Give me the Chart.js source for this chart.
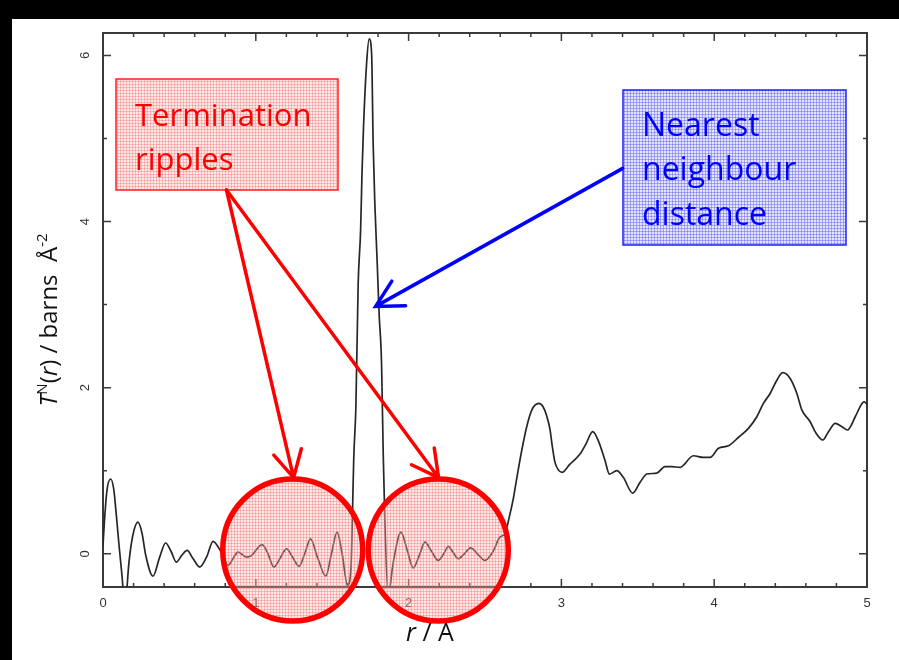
<!DOCTYPE html>
<html>
<head>
<meta charset="utf-8">
<script src="https://cdn.jsdelivr.net/npm/chart.js@4.4.0/dist/chart.umd.min.js"></script>
<style>
html, body { margin: 0; padding: 0; background: #000; }
#grafica { display: block; }
</style>
</head>
<body>
<canvas id="grafica" width="899" height="660"></canvas>
<script>
// r (Angstrom) and T^N(r)
var rValues = [
	0.000, 0.008, 0.025, 0.050, 0.070, 0.088, 0.105, 0.120, 0.145, 0.170,
	0.195, 0.229, 0.255, 0.280, 0.327, 0.371, 0.410, 0.445, 0.480, 0.515,
	0.550, 0.590, 0.633, 0.680, 0.720, 0.770, 0.819, 0.850, 0.884, 0.939,
	0.972, 1.041, 1.080, 1.118, 1.160, 1.201, 1.240, 1.284, 1.320, 1.358,
	1.405, 1.458, 1.495, 1.532, 1.565, 1.600, 1.622, 1.642, 1.655, 1.670,
	1.686, 1.695, 1.705, 1.725, 1.742, 1.758, 1.768, 1.779, 1.794, 1.807,
	1.823, 1.834, 1.845, 1.866, 1.900, 1.950, 1.990, 2.030, 2.070, 2.107,
	2.150, 2.194, 2.230, 2.260, 2.290, 2.325, 2.365, 2.406, 2.450, 2.500,
	2.550, 2.598, 2.630, 2.660, 2.685, 2.707, 2.740, 2.773, 2.806, 2.853,
	2.880, 2.904, 2.925, 2.940, 2.958, 2.980, 3.004, 3.056, 3.122, 3.160,
	3.205, 3.242, 3.286, 3.314, 3.362, 3.405, 3.467, 3.515, 3.559, 3.624,
	3.678, 3.722, 3.777, 3.864, 3.929, 3.973, 4.028, 4.093, 4.158, 4.224,
	4.279, 4.322, 4.366, 4.410, 4.449, 4.497, 4.541, 4.574, 4.628, 4.667,
	4.711, 4.748, 4.792, 4.836, 4.872, 4.923, 4.967, 4.982, 5.000
];
var tValues = [
	0.10, 0.35, 0.75, 0.90, 0.78, 0.45, 0.10, -0.18, -0.60, -0.10,
	0.22, 0.38, 0.25, -0.02, -0.27, -0.04, 0.13, 0.03, -0.10, -0.02,
	0.04, -0.06, -0.16, -0.03, 0.15, 0.03, -0.14, -0.06, 0.02, -0.04,
	-0.02, 0.11, 0.00, -0.16, -0.05, 0.06, -0.04, -0.15, 0.00, 0.18,
	-0.05, -0.27, 0.00, 0.26, 0.00, -0.38, -0.20, 1.20, 1.77, 3.25,
	3.90, 4.58, 5.14, 5.90, 6.20, 6.02, 4.94, 4.22, 3.53, 2.89,
	2.29, 1.20, 0.37, -0.50, -0.10, 0.26, 0.05, -0.17, -0.02, 0.14,
	0.03, -0.08, 0.00, 0.09, 0.02, -0.06, 0.00, 0.07, 0.00, -0.08,
	0.02, 0.20, 0.24, 0.45, 0.66, 0.90, 1.24, 1.53, 1.73, 1.81,
	1.77, 1.66, 1.50, 1.30, 1.10, 1.01, 0.98, 1.08, 1.20, 1.32,
	1.47, 1.36, 1.12, 0.96, 1.00, 0.92, 0.73, 0.86, 0.96, 0.97,
	1.05, 1.05, 1.04, 1.18, 1.16, 1.16, 1.27, 1.30, 1.40, 1.51,
	1.65, 1.81, 1.93, 2.09, 2.18, 2.11, 1.93, 1.73, 1.59, 1.45,
	1.37, 1.47, 1.57, 1.53, 1.49, 1.65, 1.81, 1.83, 1.80
];
var xTickLabels = ['0', '1', '2', '3', '4', '5'];
var yTickLabels = ['0', '2', '4', '6'];
var redBoxLines = ['Termination', 'ripples'];
var blueBoxLines = ['Nearest', 'neighbour', 'distance'];

function makeHatch(ctx, bg, line) {
	var c = document.createElement('canvas');
	c.width = 3; c.height = 3;
	var g = c.getContext('2d');
	g.fillStyle = bg; g.fillRect(0, 0, 3, 3);
	g.fillStyle = line; g.fillRect(0, 0, 3, 1); g.fillRect(0, 0, 1, 3);
	return ctx.createPattern(c, 'repeat');
}

// draws a list of [text, style] pieces, style '' / 'i' / 'sup'
function drawRich(ctx, parts, size, family) {
	var fonts = parts.map(function(p) {
		if (p[1] === 'i') return 'italic ' + size + 'px ' + family;
		if (p[1] === 'sup') return Math.round(size * 0.62) + 'px ' + family;
		return size + 'px ' + family;
	});
	var total = 0;
	parts.forEach(function(p, i) { ctx.font = fonts[i]; total += ctx.measureText(p[0]).width; });
	var x = -total / 2;
	parts.forEach(function(p, i) {
		ctx.font = fonts[i];
		ctx.fillText(p[0], x, p[1] === 'sup' ? -size * 0.42 : 0);
		x += ctx.measureText(p[0]).width;
	});
}

function arrow(ctx, x1, y1, x2, y2) {
	var ang = Math.atan2(y1 - y2, x1 - x2);
	ctx.beginPath();
	ctx.moveTo(x1, y1); ctx.lineTo(x2, y2);
	ctx.moveTo(x2 + 30 * Math.cos(ang - 0.49), y2 + 30 * Math.sin(ang - 0.49));
	ctx.lineTo(x2, y2);
	ctx.lineTo(x2 + 30 * Math.cos(ang + 0.49), y2 + 30 * Math.sin(ang + 0.49));
	ctx.stroke();
}

var fondo = {
	id: 'fondo',
	beforeDraw: function(chart) {
		var ctx = chart.ctx;
		ctx.save();
		ctx.fillStyle = '#000';
		ctx.fillRect(0, 0, chart.width, chart.height);
		ctx.fillStyle = '#fff';
		ctx.fillRect(12, 19, chart.width - 12, chart.height - 19);
		ctx.restore();
	}
};

var marco = {
	id: 'marco',
	beforeDatasetsDraw: function(chart) {
		var ctx = chart.ctx, a = chart.chartArea, x = chart.scales.x, y = chart.scales.y;
		ctx.save();
		ctx.strokeStyle = '#3a3a3a';
		ctx.lineWidth = 2;
		ctx.strokeRect(a.left, a.top, a.right - a.left, a.bottom - a.top);
		ctx.lineWidth = 1.5;
		ctx.beginPath();
		for (var i = 1; i < 25; i++) {
			var px = x.getPixelForValue(i * 0.2);
			var len = i % 5 === 0 ? 8 : 4;
			ctx.moveTo(px, a.bottom); ctx.lineTo(px, a.bottom - len);
			ctx.moveTo(px, a.top); ctx.lineTo(px, a.top + len);
		}
		for (var v = 0; v <= 6; v++) {
			var py = y.getPixelForValue(v);
			var l2 = v % 2 === 0 ? 8 : 4;
			ctx.moveTo(a.left, py); ctx.lineTo(a.left + l2, py);
			ctx.moveTo(a.right, py); ctx.lineTo(a.right - l2, py);
		}
		ctx.stroke();

		ctx.fillStyle = '#333';
		ctx.font = '13px "Liberation Sans"';
		ctx.textAlign = 'center';
		ctx.textBaseline = 'middle';
		xTickLabels.forEach(function(t) {
			ctx.fillText(t, x.getPixelForValue(parseFloat(t)), 603);
		});
		yTickLabels.forEach(function(t) {
			ctx.save();
			ctx.translate(85, y.getPixelForValue(parseFloat(t)));
			ctx.rotate(-Math.PI / 2);
			ctx.fillText(t, 0, 0);
			ctx.restore();
		});
		ctx.restore();
	}
};

var notas = {
	id: 'notas',
	afterDatasetsDraw: function(chart) {
		var ctx = chart.ctx;
		var rojo = makeHatch(ctx, 'rgba(255,185,185,0.32)', 'rgba(240,110,110,0.38)');
		var azul = makeHatch(ctx, 'rgba(195,195,255,0.45)', 'rgba(90,90,240,0.45)');
		ctx.save();

		// boxes
		ctx.fillStyle = rojo;
		ctx.fillRect(116, 79, 222, 111);
		ctx.strokeStyle = '#ff2020'; ctx.lineWidth = 1.5;
		ctx.strokeRect(116, 79, 222, 111);
		ctx.fillStyle = azul;
		ctx.fillRect(623, 90, 223, 155);
		ctx.strokeStyle = '#2020ff';
		ctx.strokeRect(623, 90, 223, 155);

		ctx.textAlign = 'left';
		ctx.textBaseline = 'alphabetic';
		ctx.font = '31px "Open Sans"';
		ctx.fillStyle = '#ff0000';
		ctx.fillText(redBoxLines[0], 135, 126);
		ctx.fillText(redBoxLines[1], 135, 170);
		ctx.fillStyle = '#0000ff';
		ctx.font = '32px "Open Sans"';
		ctx.fillText(blueBoxLines[0], 642, 136);
		ctx.fillText(blueBoxLines[1], 642, 180);
		ctx.fillText(blueBoxLines[2], 642, 225);

		// circles
		ctx.fillStyle = rojo;
		ctx.strokeStyle = '#ff0000';
		ctx.lineWidth = 5.5;
		[[292.7, 550], [438.3, 550]].forEach(function(c) {
			ctx.beginPath();
			ctx.ellipse(c[0], c[1], 70, 71, 0, 0, Math.PI * 2);
			ctx.fill();
			ctx.stroke();
		});

		// arrows
		ctx.lineWidth = 3.5;
		ctx.lineCap = 'round';
		ctx.strokeStyle = '#ff0000';
		arrow(ctx, 226.5, 190, 293.6, 477.7);
		arrow(ctx, 226.5, 190, 438.6, 477.7);
		ctx.strokeStyle = '#0000ff';
		arrow(ctx, 622.7, 168.4, 375.6, 306.4);

		// axis titles
		ctx.fillStyle = '#111';
		ctx.save();
		ctx.translate(57, 320);
		ctx.rotate(-Math.PI / 2);
		drawRich(ctx, [['T', 'i'], ['N', 'sup'], ['(', ''], ['r', 'i'], [') / barns  \u00C5', ''], ['-2', 'sup']], 24, '"Open Sans"');
		ctx.restore();
		ctx.save();
		ctx.translate(430, 641);
		drawRich(ctx, [['r', 'i'], [' / A', '']], 25, '"Open Sans"');
		ctx.restore();

		ctx.restore();
	}
};

var ctx = document.getElementById('grafica').getContext('2d');
var chart = new Chart(ctx, {
	type: 'line',
	data: {
		datasets: [{
			data: rValues.map(function(r, i) { return {x: r, y: tValues[i]}; }),
			borderColor: '#262626',
			borderWidth: 1.7,
			pointRadius: 0,
			fill: false,
			cubicInterpolationMode: 'monotone'
		}]
	},
	options: {
		responsive: false,
		animation: false,
		devicePixelRatio: 1,
		layout: { padding: { left: 103, right: 32, top: 33, bottom: 73 } },
		plugins: { legend: { display: false }, tooltip: { enabled: false } },
		scales: {
			x: { type: 'linear', min: 0, max: 5, display: false },
			y: { type: 'linear', min: -0.4, max: 6.27, display: false }
		}
	},
	plugins: [fondo, marco, notas]
});
</script>
</body>
</html>
